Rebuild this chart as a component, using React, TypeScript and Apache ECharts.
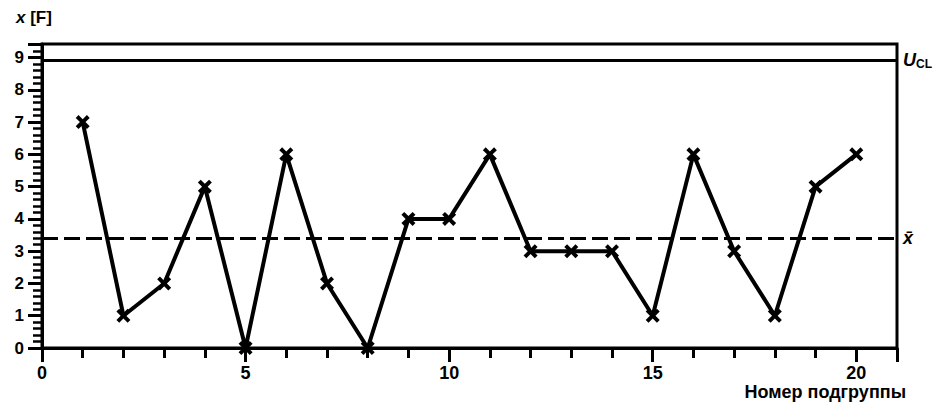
import React, { useEffect, useRef } from "react";
import * as echarts from "echarts";

const subgroups = [1, 2, 3, 4, 5, 6, 7, 8, 9, 10, 11, 12, 13, 14, 15, 16, 17, 18, 19, 20];
const values = [7, 1, 2, 5, 0, 6, 2, 0, 4, 4, 6, 3, 3, 3, 1, 6, 3, 1, 5, 6];
const UCL = 8.93;
const MEAN = 3.4;
const X_MAX = 21;
const Y_MAX = 9.42;

const FONT = "Liberation Sans";
const X_SYMBOL =
  "path://M0,2L2,0L5,3L8,0L10,2L7,5L10,8L8,10L5,7L2,10L0,8L3,5Z";

export default function App() {
  const ref = useRef<HTMLDivElement>(null);
  useEffect(() => {
    if (!ref.current) return;
    const chart = echarts.init(ref.current, undefined, { renderer: "svg" });
    const axisLine = { show: true, lineStyle: { color: "#000", width: 3 } };
    const data = subgroups.map((s, i) => [s, values[i]]);
    chart.setOption({
      animation: false,
      backgroundColor: "#fff",
      grid: {
        left: 42,
        right: 41,
        top: 44,
        bottom: 54,
        show: true,
        borderColor: "#000",
        borderWidth: 3,
        backgroundColor: "transparent",
      },
      xAxis: [
        {
          type: "value",
          min: 0,
          max: X_MAX,
          interval: 5,
          axisLine,
          splitLine: { show: false },
          axisTick: { show: true, length: 14, lineStyle: { color: "#000", width: 3 } },
          axisLabel: {
            margin: 16,
            color: "#000",
            fontFamily: FONT,
            fontWeight: "bold",
            fontSize: 18,
            formatter: (v: number) => (v % 5 === 0 ? String(v) : ""),
          },
        },
        {
          type: "value",
          position: "bottom",
          min: 0,
          max: X_MAX,
          interval: 1,
          axisLine,
          splitLine: { show: false },
          axisTick: { show: true, length: 10, lineStyle: { color: "#000", width: 3 } },
          axisLabel: { show: false },
        },
      ],
      yAxis: [
        {
          type: "value",
          position: "left",
          min: 0,
          max: Y_MAX,
          interval: 1,
          axisLine,
          splitLine: { show: false },
          minorSplitLine: { show: false },
          axisTick: { show: true, length: 14, lineStyle: { color: "#000", width: 3 } },
          minorTick: {
            show: true,
            splitNumber: 5,
            length: 9,
            lineStyle: { color: "#000", width: 2.5 },
          },
          axisLabel: {
            margin: 18,
            color: "#000",
            fontFamily: FONT,
            fontWeight: "bold",
            fontSize: 17,
            formatter: (v: number) => (Number.isInteger(v) ? String(v) : ""),
          },
        },
      ],
      graphic: [
        {
          type: "text",
          left: 16,
          top: 9,
          style: {
            text: "{i|x} [F]",
            fill: "#000",
            font: `bold 17px "${FONT}"`,
            rich: {
              i: { fontStyle: "italic", fontWeight: "bold", fontSize: 17, fontFamily: FONT },
            },
          },
        },
        {
          type: "text",
          right: 32,
          bottom: 1,
          style: {
            text: "Номер подгруппы",
            fill: "#000",
            font: `bold 18px "${FONT}"`,
          },
        },
      ],
      series: [
        {
          type: "line",
          data,
          xAxisIndex: 0,
          yAxisIndex: 0,
          symbol: X_SYMBOL,
          symbolSize: 14,
          lineStyle: { color: "#000", width: 4 },
          itemStyle: { color: "#000" },
          markLine: {
            silent: true,
            symbol: "none",
            data: [
              {
                yAxis: UCL,
                lineStyle: { color: "#000", width: 3, type: "solid" },
                label: {
                  show: true,
                  position: "end",
                  distance: 6,
                  formatter: "{u|U}{s|CL}",
                  rich: {
                    u: {
                      fontStyle: "italic",
                      fontWeight: "bold",
                      fontSize: 18,
                      fontFamily: FONT,
                      color: "#000",
                    },
                    s: {
                      fontWeight: "bold",
                      fontSize: 12,
                      fontFamily: FONT,
                      color: "#000",
                      verticalAlign: "bottom",
                      padding: [8, 0, 0, 0],
                    },
                  },
                },
              },
              {
                yAxis: MEAN,
                lineStyle: { color: "#000", width: 3, type: [16, 6] },
                label: {
                  show: true,
                  position: "end",
                  distance: 6,
                  formatter: "x̄",
                  color: "#000",
                  fontStyle: "italic",
                  fontWeight: "bold",
                  fontSize: 18,
                  fontFamily: FONT,
                },
              },
            ],
          },
        },
      ],
    });
    return () => chart.dispose();
  }, []);
  return (
    <div
      ref={ref}
      style={{ position: "fixed", left: 0, top: 0, width: 938, height: 402 }}
    />
  );
}
